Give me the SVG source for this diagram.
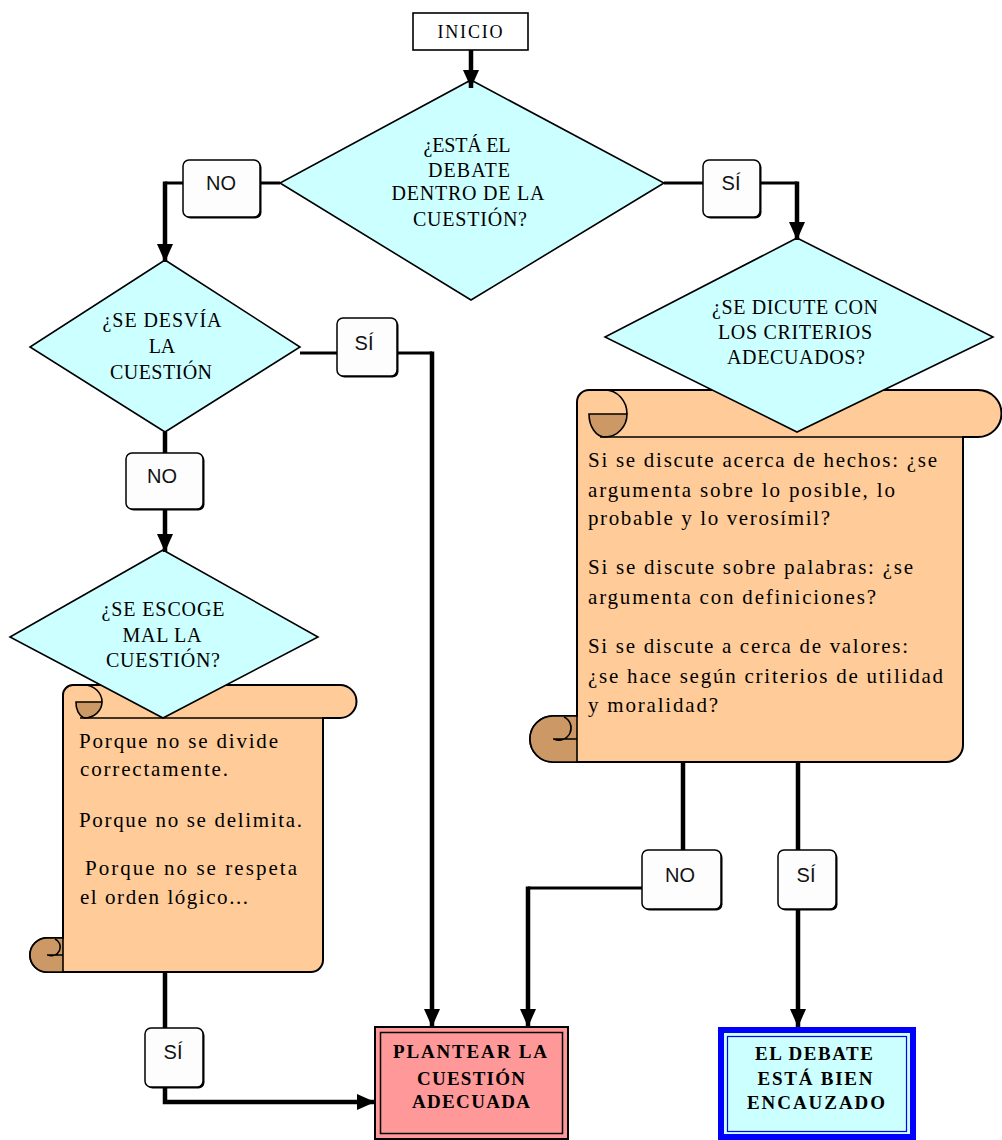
<svg xmlns="http://www.w3.org/2000/svg" width="1002" height="1140" viewBox="0 0 1002 1140">
<style>
.bg{fill:#fff}
.dia{fill:#ccffff;stroke:#000;stroke-width:1.6}
.scroll{fill:#ffcc99;stroke:#000;stroke-width:2}
.curl{fill:#cc9966;stroke:#000;stroke-width:1.6}
.ln{fill:none;stroke:#000;stroke-width:1.6}
.c4{fill:none;stroke:#000;stroke-width:4.5}
.c3{fill:none;stroke:#000;stroke-width:3}
.lbl .sh{fill:#000}
.lbl .bx{fill:#fdfdfd;stroke:#000;stroke-width:1.5}
.lt{font-family:"Liberation Sans",Arial,sans-serif;font-size:20px;text-anchor:middle;fill:#111}
.dt{font-family:"Liberation Serif","Times New Roman",serif;font-size:20px;text-anchor:middle;fill:#000}
.st{font-family:"Liberation Serif","Times New Roman",serif;font-size:21px;fill:#000}
.bt{font-family:"Liberation Serif","Times New Roman",serif;font-size:19px;font-weight:bold;text-anchor:middle;fill:#000}
</style>
<defs>
<marker id="ah" markerUnits="userSpaceOnUse" viewBox="0 0 18 16" markerWidth="18" markerHeight="16" refX="18" refY="8" orient="auto">
<path d="M0,0 L18,8 L0,16 z" fill="#000"/>
</marker>
</defs>
<rect class="bg" x="0" y="0" width="1002" height="1140"/>

<!-- Scrolls -->
<g id="scroll-left">
<path class="scroll" d="M63 695 A10 10 0 0 1 73 685 H340 A16.5 16.5 0 0 1 340 718 H323 V960 A12 12 0 0 1 311 972 H47 A17 17 0 0 1 47 938 H63 Z"/>
<path class="ln" d="M84 685 A18 17 0 0 1 102 702"/>
<path class="curl" d="M76 702 H102 A18 16 0 0 1 84 718 A12 16 0 0 1 76 702 Z"/>
<path class="ln" d="M80 718 H323"/>
<path class="curl" d="M63 938 H47 A17 17 0 0 0 47 972 H63 Z"/>
<path class="ln" d="M47 955 H63 M55 939 A8 8 0 0 1 48 955"/>
<text class="st" x="79" y="748" textLength="199" lengthAdjust="spacing">Porque no se divide</text>
<text class="st" x="80" y="776" textLength="148" lengthAdjust="spacing">correctamente.</text>
<text class="st" x="79" y="827" textLength="223" lengthAdjust="spacing">Porque no se delimita.</text>
<text class="st" x="85" y="875" textLength="212" lengthAdjust="spacing">Porque no se respeta</text>
<text class="st" x="80" y="904" textLength="168" lengthAdjust="spacing">el orden lógico...</text>
</g>

<g id="scroll-right">
<path class="scroll" d="M577 402 A12 12 0 0 1 589 390 H978 A23.5 23.5 0 0 1 978 437 H963 V745 A17 17 0 0 1 946 762 H553 A23 23 0 0 1 553 716 H577 Z"/>
<path class="ln" d="M605 390 A22 24 0 0 1 627 414"/>
<path class="curl" d="M589 414 H627 A22 23 0 0 1 605 437 A16 23 0 0 1 589 414 Z"/>
<path class="ln" d="M600 437 H963"/>
<path class="curl" d="M577 716 H553 A23 23 0 0 0 553 762 H577 Z"/>
<path class="ln" d="M553 739 H577 M564 717 A11 11 0 0 1 554 739"/>
<text class="st" x="588" y="467" textLength="349" lengthAdjust="spacing">Si se discute acerca de hechos: ¿se</text>
<text class="st" x="588" y="497" textLength="307" lengthAdjust="spacing">argumenta sobre lo posible, lo</text>
<text class="st" x="588" y="525" textLength="242" lengthAdjust="spacing">probable y lo verosímil?</text>
<text class="st" x="588" y="574" textLength="325" lengthAdjust="spacing">Si se discute sobre palabras: ¿se</text>
<text class="st" x="588" y="604" textLength="288" lengthAdjust="spacing">argumenta con definiciones?</text>
<text class="st" x="588" y="653" textLength="320" lengthAdjust="spacing">Si se discute a cerca de valores:</text>
<text class="st" x="588" y="683" textLength="355" lengthAdjust="spacing">¿se hace según criterios de utilidad</text>
<text class="st" x="588" y="712" textLength="130" lengthAdjust="spacing">y moralidad?</text>
</g>

<!-- Start -->
<g id="inicio">
<rect x="413" y="13" width="115" height="37" fill="#fff" stroke="#000" stroke-width="1.6"/>
<text class="dt" x="470" y="38" style="font-size:18px" textLength="65" lengthAdjust="spacing">INICIO</text>
</g>

<!-- Decisions -->
<g id="d-dentro">
<polygon class="dia" points="471,80 664,183 471,300 280,183"/>
<text class="dt" x="467" y="152" textLength="87" lengthAdjust="spacing">¿ESTÁ EL</text>
<text class="dt" x="469" y="177" textLength="82" lengthAdjust="spacing">DEBATE</text>
<text class="dt" x="468" y="200" textLength="153" lengthAdjust="spacing">DENTRO DE LA</text>
<text class="dt" x="470" y="226" textLength="114" lengthAdjust="spacing">CUESTIÓN?</text>
</g>

<g id="d-desvia">
<polygon class="dia" points="165,260 300,347 165,432 30,347"/>
<text class="dt" x="162" y="327" textLength="119" lengthAdjust="spacing">¿SE DESVÍA</text>
<text class="dt" x="162" y="353">LA</text>
<text class="dt" x="161" y="379" textLength="102" lengthAdjust="spacing">CUESTIÓN</text>
</g>

<g id="d-escoge">
<polygon class="dia" points="163,550 318,637 163,718 10,637"/>
<text class="dt" x="163" y="616" textLength="123" lengthAdjust="spacing">¿SE ESCOGE</text>
<text class="dt" x="162" y="642" textLength="79" lengthAdjust="spacing">MAL LA</text>
<text class="dt" x="163" y="667" textLength="114" lengthAdjust="spacing">CUESTIÓN?</text>
</g>

<g id="d-criterios">
<polygon class="dia" points="797,238 993,337 797,432 605,337"/>
<text class="dt" x="795" y="314" textLength="166" lengthAdjust="spacing">¿SE DICUTE CON</text>
<text class="dt" x="795" y="339" textLength="154" lengthAdjust="spacing">LOS CRITERIOS</text>
<text class="dt" x="796" y="364" textLength="138" lengthAdjust="spacing">ADECUADOS?</text>
</g>

<!-- Terminals -->
<g id="plantear">
<rect x="375" y="1027" width="193" height="112" fill="#ff9999" stroke="#000" stroke-width="2"/>
<rect x="380.5" y="1032.5" width="182" height="101" fill="none" stroke="#000" stroke-width="1.5"/>
<text class="bt" x="470" y="1058" textLength="154" lengthAdjust="spacing">PLANTEAR LA</text>
<text class="bt" x="471" y="1085" textLength="108" lengthAdjust="spacing">CUESTIÓN</text>
<text class="bt" x="471" y="1108" textLength="118" lengthAdjust="spacing">ADECUADA</text>
</g>

<g id="encauzado">
<rect x="721" y="1030" width="192" height="107" fill="#ccffff" stroke="#0000ff" stroke-width="6"/>
<rect x="727.5" y="1036.5" width="179" height="95" fill="none" stroke="#0000ff" stroke-width="1.2"/>
<text class="bt" x="814" y="1060" textLength="118" lengthAdjust="spacing">EL DEBATE</text>
<text class="bt" x="815" y="1085" textLength="115" lengthAdjust="spacing">ESTÁ BIEN</text>
<text class="bt" x="816" y="1109" textLength="138" lengthAdjust="spacing">ENCAUZADO</text>
</g>

<!-- Connectors -->
<g id="connectors">
<path class="c4" d="M471 50 V88" marker-end="url(#ah)"/>
<path class="c3" d="M280 183 H165"/>
<path class="c4" d="M165 181.5 V262" marker-end="url(#ah)"/>
<path class="c3" d="M664 183 H797"/>
<path class="c4" d="M797 181.5 V240" marker-end="url(#ah)"/>
<path class="c3" d="M300 353 H432"/>
<path class="c4" d="M432 351.5 V1027" marker-end="url(#ah)"/>
<path class="c4" d="M165 432 V552" marker-end="url(#ah)"/>
<path class="c4" d="M165 972 V1102 H375" marker-end="url(#ah)"/>
<path class="c4" d="M683 762 V888"/>
<path class="c3" d="M683 888 H528"/>
<path class="c4" d="M528 886.5 V1027" marker-end="url(#ah)"/>
<path class="c4" d="M798 762 V1027" marker-end="url(#ah)"/>
</g>

<!-- Branch labels -->
<g id="lbl-no1" class="lbl">
<rect class="sh" x="184.5" y="161.5" width="77" height="57" rx="6"/>
<rect class="bx" x="183" y="160" width="77" height="57" rx="6"/>
<text class="lt" x="221" y="190">NO</text>
</g>
<g id="lbl-si1" class="lbl">
<rect class="sh" x="704.5" y="161.5" width="57" height="57" rx="6"/>
<rect class="bx" x="703" y="160" width="57" height="57" rx="6"/>
<text class="lt" x="731" y="190">SÍ</text>
</g>
<g id="lbl-si2" class="lbl">
<rect class="sh" x="338.5" y="319.5" width="60" height="58" rx="6"/>
<rect class="bx" x="337" y="318" width="60" height="58" rx="6"/>
<text class="lt" x="364" y="350">SÍ</text>
</g>
<g id="lbl-no2" class="lbl">
<rect class="sh" x="127.5" y="454.5" width="77" height="56" rx="6"/>
<rect class="bx" x="126" y="453" width="77" height="56" rx="6"/>
<text class="lt" x="162" y="483">NO</text>
</g>
<g id="lbl-no3" class="lbl">
<rect class="sh" x="643.5" y="851.5" width="79" height="59" rx="6"/>
<rect class="bx" x="642" y="850" width="79" height="59" rx="6"/>
<text class="lt" x="680" y="882">NO</text>
</g>
<g id="lbl-si3" class="lbl">
<rect class="sh" x="779.5" y="851.5" width="58" height="59" rx="6"/>
<rect class="bx" x="778" y="850" width="58" height="59" rx="6"/>
<text class="lt" x="806" y="882">SÍ</text>
</g>
<g id="lbl-si4" class="lbl">
<rect class="sh" x="146.5" y="1029.5" width="58" height="59" rx="6"/>
<rect class="bx" x="145" y="1028" width="58" height="59" rx="6"/>
<text class="lt" x="173" y="1059">SÍ</text>
</g>
</svg>
